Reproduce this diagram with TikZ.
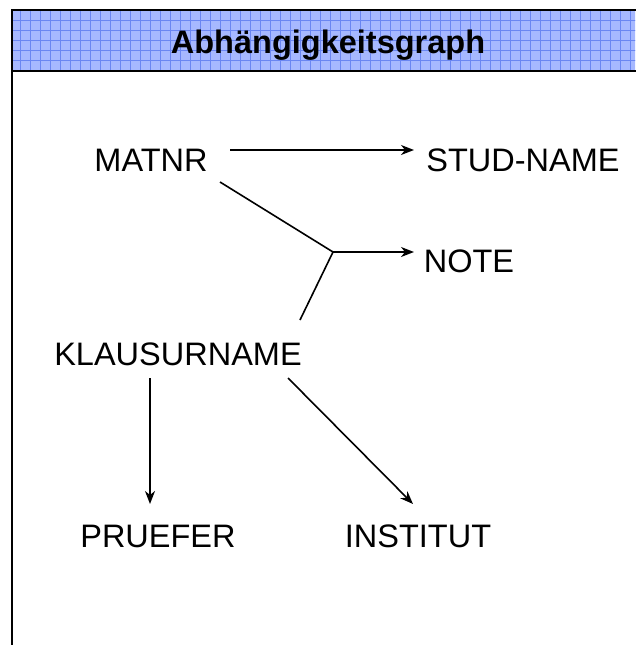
\documentclass[tikz,border=0pt]{standalone}
\usepackage{fontspec}
\setmainfont{Liberation Sans}
\usetikzlibrary{arrows.meta}
\definecolor{hdrfill}{HTML}{A6B8FF}
\definecolor{hdrmajor}{HTML}{6A86F2}
\definecolor{hdrminor}{HTML}{95AAFC}
\tikzset{
  lbl/.style={inner sep=0pt, anchor=base, font=\fontsize{32.5}{36}\selectfont},
  conn/.style={line width=1.6pt, black},
  arr/.style={conn, -{Stealth[length=13pt,width=10pt,inset=4pt]}},
  frame/.style={line width=2.6pt, black}
}
\begin{document}
\begin{tikzpicture}[x=1pt,y=-1pt]
\useasboundingbox (0,0) rectangle (635,645);
% header band
\begin{scope}
\clip (12,10) rectangle (635,71);
\fill[hdrfill] (12,10) rectangle (650,71);
\draw[hdrminor, line width=0.3pt] (17,10) grid[step=10pt] (650,71);
\draw[hdrmajor, line width=0.8pt] (12,10) grid[step=10pt] (650,71);
\end{scope}
\draw[frame] (12,645) -- (12,10) -- (640,10);
\draw[frame] (12,71) -- (640,71);
\node[inner sep=0pt, anchor=base, font=\fontsize{32.5}{36}\selectfont\bfseries] (title) at (328,53) {Abhängigkeitsgraph};
% nodes
\node[lbl] (MATNR) at (151,171) {MATNR};
\node[lbl] (STUD) at (523,171) {STUD-NAME};
\node[lbl] (NOTE) at (469,272) {NOTE};
\node[lbl] (KLAUS) at (178,365) {KLAUSURNAME};
\node[lbl] (PRUEFER) at (158,547) {PRUEFER};
\node[lbl] (INST) at (418,547) {INSTITUT};
% connector points
\coordinate (m1) at (230,150);
\coordinate (s1) at (414,150);
\coordinate (m2) at (220,182);
\coordinate (j) at (333,252);
\coordinate (n1) at (414,252);
\coordinate (k1) at (300,320);
\coordinate (k2) at (150,378);
\coordinate (p1) at (150,504);
\coordinate (k3) at (288,378);
\coordinate (i1) at (413,504);
% connectors
\draw[arr] (m1) -- (s1);
\draw[conn] (m2) -- (j) -- (k1);
\draw[arr] (j) -- (n1);
\draw[arr] (k2) -- (p1);
\draw[arr] (k3) -- (i1);
\end{tikzpicture}
\end{document}
